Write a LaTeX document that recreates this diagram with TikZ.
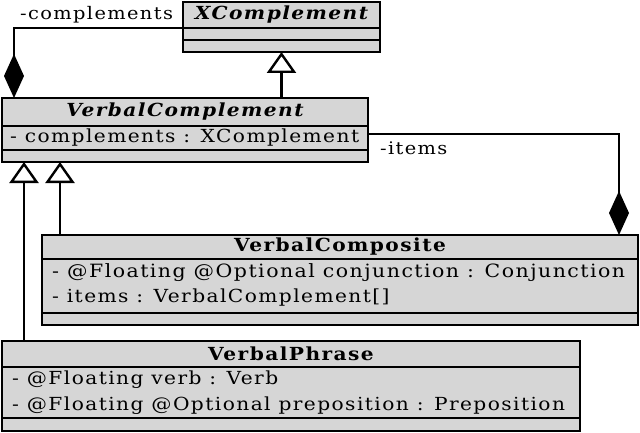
\documentclass[tikz,border=0pt]{standalone}
\usepackage{fontspec}
\setmainfont[LetterSpace=8, FakeStretch=1.12]{DejaVu Serif}
\usetikzlibrary{arrows.meta,calc}
\definecolor{clsfill}{RGB}{214,214,214}
\tikzset{
  box/.style={draw=black, line width=2.6pt, fill=clsfill, inner sep=0pt, outer sep=0pt, anchor=north west},
  sepline/.style={line width=2.6pt},
  conn/.style={line width=2.5pt},
  ttl/.style={font=\fontsize{18}{20}\selectfont\bfseries, inner sep=0pt},
  attr/.style={font=\fontsize{18}{20}\selectfont, inner sep=0pt, anchor=west},
  lbl/.style={font=\fontsize{17.3}{20}\selectfont, inner sep=0pt},
  gen/.style={-{Triangle[open, length=21pt, width=29pt, line width=2.4pt]}},
  comp/.style={{Diamond[length=44pt, width=20pt]}-},
}
\begin{document}
\begin{tikzpicture}[x=1pt, y=-1pt]
\useasboundingbox (0,0) rectangle (640,433);
% XComplement
\node[box, minimum width=197pt, minimum height=50pt] (xc) at (183,2) {};
\draw[sepline] (183,28) -- (380,28);
\draw[sepline] (183,40) -- (380,40);
\node[ttl, font=\fontsize{18}{20}\selectfont\bfseries\itshape] (xct) at (281.5,15) {XComplement};
% VerbalComplement
\node[box, minimum width=366pt, minimum height=64pt] (vc) at (2,98) {};
\draw[sepline] (2,126) -- (368,126);
\draw[sepline] (2,150) -- (368,150);
\node[ttl, font=\fontsize{18}{20}\selectfont\bfseries\itshape] (vct) at (185,112) {VerbalComplement};
\node[attr] (vca) at (10,138) {- complements : XComplement};
% VerbalComposite
\node[box, minimum width=596pt, minimum height=90pt] (vp) at (42,235) {};
\draw[sepline] (42,259) -- (638,259);
\draw[sepline] (42,313) -- (638,313);
\node[ttl] (vpt) at (340,246.5) {VerbalComposite};
\node[attr, font=\fontsize{18.3}{20}\selectfont] (vpa1) at (52,273) {- @Floating @Optional conjunction : Conjunction};
\node[attr] (vpa2) at (52,298) {- items : VerbalComplement[]};
% VerbalPhrase
\node[box, minimum width=578pt, minimum height=90pt] (ph) at (2,341) {};
\draw[sepline] (2,367) -- (580,367);
\draw[sepline] (2,418) -- (580,418);
\node[ttl] (pht) at (291,354) {VerbalPhrase};
\node[attr] (pha1) at (12,380) {- @Floating verb : Verb};
\node[attr] (pha2) at (12,406) {- @Floating @Optional preposition : Preposition};
% connectors
\coordinate (c1) at (14,28);
\coordinate (c2) at (619,134);
\draw[conn, comp] (vc.north -| c1) -- (c1) -- (c1 -| xc.west);
\node[lbl, anchor=south west] (l1) at (20,23) {-complements};
\draw[conn, comp] (vp.north -| c2) -- (c2) -- (c2 -| vc.east);
\node[lbl, anchor=north west] (l2) at (380,142) {-items};
\draw[conn, gen] (vc.north -| xct) -- (xc.south -| xct);
\coordinate (g1) at (24,0);
\coordinate (g2) at (60,0);
\draw[conn, gen] (ph.north -| g1) -- (vc.south -| g1);
\draw[conn, gen] (vp.north -| g2) -- (vc.south -| g2);
\end{tikzpicture}
\end{document}
